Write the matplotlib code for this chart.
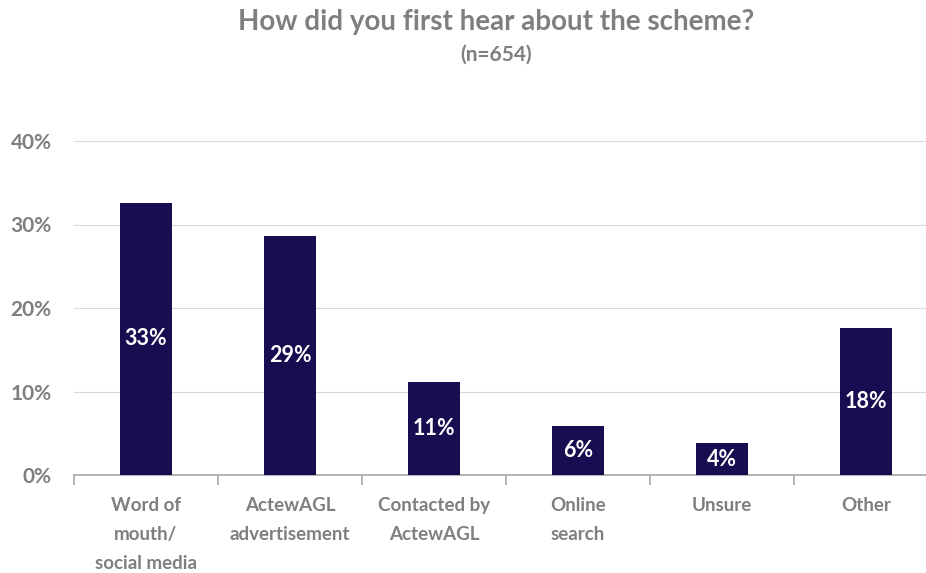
import numpy as np
import matplotlib.pyplot as plt
from matplotlib.ticker import FixedLocator, PercentFormatter

# Survey results
categories = ['Word of\nmouth/\nsocial media', 'ActewAGL\nadvertisement', 'Contacted by\nActewAGL',
              'Online\nsearch', 'Unsure', 'Other']
shares = [32.6, 28.6, 11.1, 5.9, 3.8, 17.6]

grey = '#7f7f7f'
navy = '#1a0c50'
plt.rcParams['font.family'] = ['Lato', 'DejaVu Sans']

fig = plt.figure(figsize=(9.26, 5.73), dpi=100)
ax = fig.add_axes([74 / 926, 98 / 573, 864 / 926, 334 / 573])

x = np.arange(len(categories))
bars = ax.bar(x, shares, width=0.36, color=navy, zorder=3)

# Value labels inside the bars
for rect, val in zip(bars, shares):
    ax.text(rect.get_x() + rect.get_width() / 2, val / 2, f'{val:.0f}%',
            ha='center', va='center', color='white', fontsize=15.5, fontweight='bold', zorder=4)

ax.set_xlim(-0.5, len(categories) - 0.5)
ax.set_ylim(0, 40)
ax.set_yticks([0, 10, 20, 30, 40])
ax.yaxis.set_major_formatter(PercentFormatter(decimals=0))
ax.grid(axis='y', color='#d9d9d9', linewidth=0.8, zorder=0)

for side in ['top', 'right', 'left']:
    ax.spines[side].set_visible(False)
ax.spines['bottom'].set_color('#a6a6a6')
ax.spines['bottom'].set_linewidth(1.2)

# Category labels centred, tick marks on category boundaries
ax.set_xticks(x)
ax.set_xticklabels(categories, color=grey, fontsize=13.5, fontweight='bold', linespacing=1.85)
ax.tick_params(axis='x', length=0, pad=16)
ax.xaxis.set_minor_locator(FixedLocator(np.arange(-0.5, len(categories), 1.0)))
ax.tick_params(axis='x', which='minor', length=7, color='#a6a6a6', width=1.2)
ax.tick_params(axis='y', length=0, labelcolor=grey, labelsize=15, pad=16)
for lbl in ax.get_yticklabels():
    lbl.set_fontweight('bold')

fig.text(496 / 926, 1 - 22 / 573, 'How did you first hear about the scheme?', ha='center', va='center',
         color=grey, fontsize=20, fontweight='bold')
fig.text(496 / 926, 1 - 55 / 573, '(n=654)', ha='center', va='center',
         color=grey, fontsize=15, fontweight='bold')

fig.savefig('out.png', dpi=100)
